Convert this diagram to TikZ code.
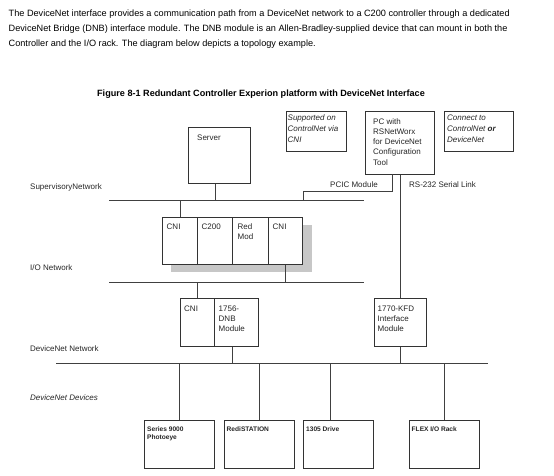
\documentclass[tikz,border=0pt]{standalone}
\usepackage{fontspec}
\setmainfont{Liberation Sans}
\begin{document}
\begin{tikzpicture}[x=1pt,y=-1pt,
  box/.style={draw=black!80, line width=0.8pt, fill=white, inner sep=0pt, anchor=north west},
  lbl/.style={inner sep=0pt, anchor=west, font=\fontsize{8}{10}\selectfont, text=black!85},
  intext/.style={inner sep=0pt, anchor=north west, align=left, font=\fontsize{8}{10.3}\selectfont, text=black!85},
  devtext/.style={inner sep=0pt, anchor=north west, align=left, font=\fontsize{6.6}{8.5}\selectfont\bfseries, text=black!85},
  wire/.style={draw=black!75, line width=0.8pt}]
\useasboundingbox (0,0) rectangle (554,475);
% paragraph
\node[inner sep=0pt, anchor=north west, align=left, font=\fontsize{9.15}{15}\selectfont] (para) at (8.5,9.3)
 {The DeviceNet interface provides a communication path from a DeviceNet network to a C200 controller through a dedicated\\
 DeviceNet Bridge (DNB) interface module. The DNB module is an Allen-Bradley-supplied device that can mount in both the\\
 Controller and the I/O rack. The diagram below depicts a topology example.};
\node[inner sep=0pt, font=\fontsize{9.1}{10}\selectfont\bfseries] (title) at (261,94)
 {Figure 8-1 Redundant Controller Experion platform with DeviceNet Interface};

% network lines
\coordinate (supA) at (109,200); \coordinate (supB) at (364,200);
\coordinate (ioA) at (109,282); \coordinate (ioB) at (364,282);
\coordinate (dnA) at (56,363); \coordinate (dnB) at (488,363);
\draw[wire] (supA) -- (supB);
\draw[wire] (ioA) -- (ioB);
\draw[wire] (dnA) -- (dnB);

% labels
\node[lbl] (supL) at (30,187) {SupervisoryNetwork};
\node[lbl] (ioL) at (30,268) {I/O Network};
\node[lbl] (dnL) at (30,349) {DeviceNet Network};
\node[lbl, font=\fontsize{8}{10}\selectfont\itshape] (devL) at (30,398) {DeviceNet Devices};
\node[lbl] (pcicL) at (330,185) {PCIC Module};
\node[lbl] (rsL) at (409,185) {RS-232 Serial Link};

% server
\node[box, minimum width=62, minimum height=56] (server) at (188,127) {};
\node[intext] (serverT) at (197,134.5) {Server};
\coordinate (srvTap) at (215,0);
\draw[wire] (srvTap |- server.south) -- (srvTap |- supA);

% top note boxes
\node[box, minimum width=60, minimum height=40] (supp) at (286,111) {};
\node[intext, font=\fontsize{8}{11}\selectfont\itshape] (suppT) at (287.5,114.5) {Supported on\\ControlNet via\\CNI};
\node[box, minimum width=69, minimum height=63] (pc) at (365,111) {};
\node[intext] (pcT) at (373,118) {PC with\\RSNetWorx\\for DeviceNet\\Configuration\\Tool};
\node[box, minimum width=69, minimum height=40] (conn) at (444,111) {};
\node[intext, font=\fontsize{8}{11}\selectfont\itshape] (connT) at (447,114.5) {Connect to\\ControlNet \textbf{or}\\DeviceNet};

% PCIC and RS-232
\coordinate (pcicTop) at (392,174);
\coordinate (pcicBend) at (392,191);
\coordinate (pcicJoin) at (303,191);
\draw[wire] (pcicTop) -- (pcicBend) -- (pcicJoin) -- (pcicJoin |- supA);

% rack with shadow
\fill[black!22] (171,225) rectangle (312,272);
\node[box, minimum width=35, minimum height=47] (cniA) at (162,217) {};
\node[box, minimum width=35, minimum height=47] (c200) at (197,217) {};
\node[box, minimum width=36, minimum height=47] (red) at (232,217) {};
\node[box, minimum width=34, minimum height=47] (cniB) at (268,217) {};
\node[intext] (cniAT) at (166.5,223.5) {CNI};
\node[intext] (c200T) at (201.5,223.5) {C200};
\node[intext] (redT) at (237.5,223.5) {Red\\Mod};
\node[intext] (cniBT) at (272.5,223.5) {CNI};
\draw[wire] (cniA.north) -- (cniA.north |- supA);
\draw[wire] (cniB.south) -- (cniB.south |- ioA);

% DNB
\node[box, minimum width=34, minimum height=48] (cniC) at (180,298) {};
\node[box, minimum width=44, minimum height=48] (dnb) at (214,298) {};
\node[intext] (cniCT) at (184,305.5) {CNI};
\node[intext] (dnbT) at (218.5,305.5) {1756-\\DNB\\Module};
\draw[wire] (cniC.north) -- (cniC.north |- ioA);
\coordinate (dnbTap) at (232,0);
\draw[wire] (dnbTap |- dnb.south) -- (dnbTap |- dnA);

% KFD
\node[box, minimum width=52, minimum height=48] (kfd) at (374,298) {};
\node[intext] (kfdT) at (377.5,305.5) {1770-KFD\\Interface\\Module};
\draw[wire] (kfd.north) -- (kfd.north |- pc.south);
\draw[wire] (kfd.south) -- (kfd.south |- dnA);

% devices
\node[box, minimum width=70, minimum height=48] (dev1) at (144,420) {};
\node[box, minimum width=70, minimum height=48] (dev2) at (224,420) {};
\node[box, minimum width=70, minimum height=48] (dev3) at (303,420) {};
\node[box, minimum width=70, minimum height=48] (dev4) at (409,420) {};
\node[devtext] (dev1T) at (147,426.5) {Series 9000\\Photoeye};
\node[devtext] (dev2T) at (226.5,426.5) {RediSTATION};
\node[devtext] (dev3T) at (306,426.5) {1305 Drive};
\node[devtext] (dev4T) at (411.5,426.5) {FLEX I/O Rack};
\draw[wire] (dev1.north) -- (dev1.north |- dnA);
\draw[wire] (dev2.north) -- (dev2.north |- dnA);
\coordinate (dev3Tap) at (330,0);
\draw[wire] (dev3Tap |- dev3.north) -- (dev3Tap |- dnA);
\draw[wire] (dev4.north) -- (dev4.north |- dnA);
\end{tikzpicture}
\end{document}
